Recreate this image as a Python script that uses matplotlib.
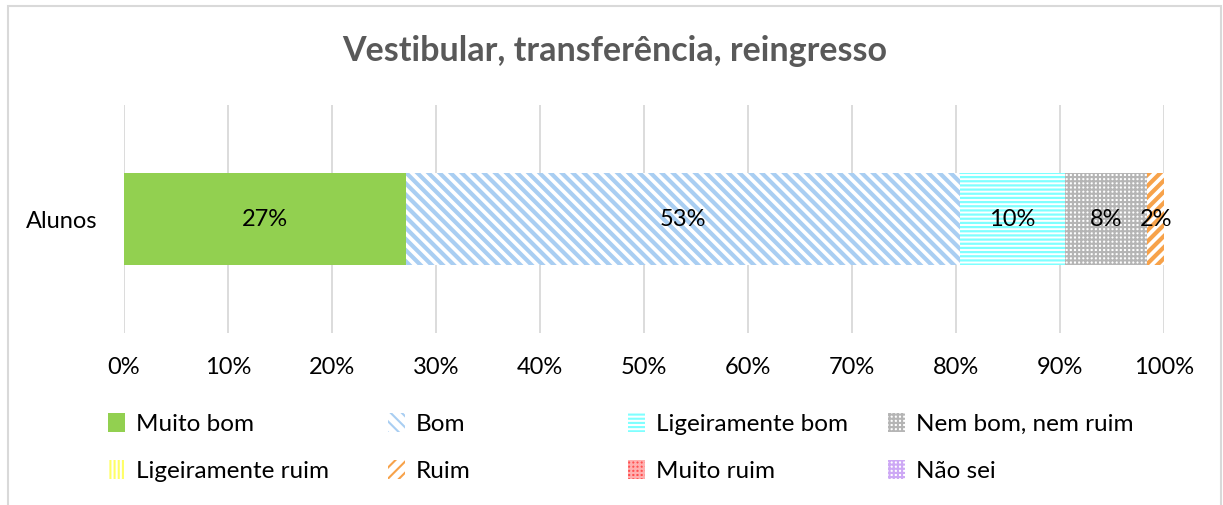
import matplotlib as mpl
import matplotlib.pyplot as plt
import matplotlib.patches as mpatches
import numpy as np

plt.rcParams['font.family'] = ['Lato', 'DejaVu Sans']

categories = ['Alunos']
series = ['Muito bom', 'Bom', 'Ligeiramente bom', 'Nem bom, nem ruim',
          'Ligeiramente ruim', 'Ruim', 'Muito ruim', 'Não sei']
values = [27.1, 53.3, 10.1, 7.9, 0.0, 1.6, 0.0, 0.0]
ticks = [0, 10, 20, 30, 40, 50, 60, 70, 80, 90, 100]

# look of each series: (fill, hatch colour, hatch, hatch width)
styles = [
    ('#92D050', '#92D050', None, 1.0),
    ('white', '#A9CEF2', '\\\\\\', 3.0),
    ('white', '#7FFFFF', '----', 1.6),
    ('white', '#B5B5B5', '++++', 1.5),
    ('white', '#FFFF66', '||||', 1.6),
    ('white', '#F7A24A', '///', 3.0),
    ('#FF5050', '#FFB0B0', '++++', 1.0),
    ('white', '#CDA8F5', '++++', 1.5),
]

W, H = 1223, 505
fig = plt.figure(figsize=(W / 100, H / 100), dpi=100)
ax = fig.add_axes([124 / W, 1 - 333 / H, (1164 - 124) / W, (333 - 105) / H])

left = 0.0
handles = []
for name, val, (fc, hc, hatch, hw) in zip(series, values, styles):
    mpl.rcParams['hatch.linewidth'] = hw
    bars = ax.barh(categories, [val], left=left, height=0.4, color=fc,
                   edgecolor=hc, hatch=hatch, linewidth=0, zorder=2)
    if val > 0:
        ax.text(left + val / 2, 0, '%d%%' % round(val), ha='center', va='center',
                fontsize=17, color='black', zorder=3)
    handles.append(mpatches.Patch(facecolor=fc, edgecolor=hc, hatch=hatch,
                                  linewidth=0, label=name))
    left += val

ax.set_xlim(0, 100)
ax.set_ylim(-0.5, 0.5)
ax.set_xticks(ticks)
ax.set_xticklabels(['%d%%' % t for t in ticks])
ax.tick_params(axis='x', length=0, labelsize=17, pad=17, colors='black')
ax.tick_params(axis='y', length=0, labelsize=17, pad=19, colors='black')
ax.grid(axis='x', color='#D9D9D9', linewidth=1.3, zorder=0)
for s in ax.spines.values():
    s.set_visible(False)

fig.suptitle('Vestibular, transferência, reingresso', x=615 / W, y=1 - 51 / H,
             va='center', fontsize=24.5, fontweight='bold', color='#595959')

# legend: four columns, two rows, row-wise order
col_x = [108, 388, 628, 888]
row_y = [424, 471]
for i, h in enumerate(handles):
    fig.legend(handles=[h], loc='center left',
               bbox_to_anchor=(col_x[i % 4] / W, 1 - row_y[i // 4] / H),
               frameon=False, fontsize=17.5,
               handlelength=0.7, handleheight=0.8, handletextpad=0.45,
               borderaxespad=0, borderpad=0)

fig.add_artist(mpatches.Rectangle((8 / W, -0.1), (1221 - 8) / W, 1.1 - 6 / H,
                                  transform=fig.transFigure, fill=False,
                                  edgecolor='#D9D9D9', linewidth=1.5))

fig.savefig('out.png', dpi=100)
